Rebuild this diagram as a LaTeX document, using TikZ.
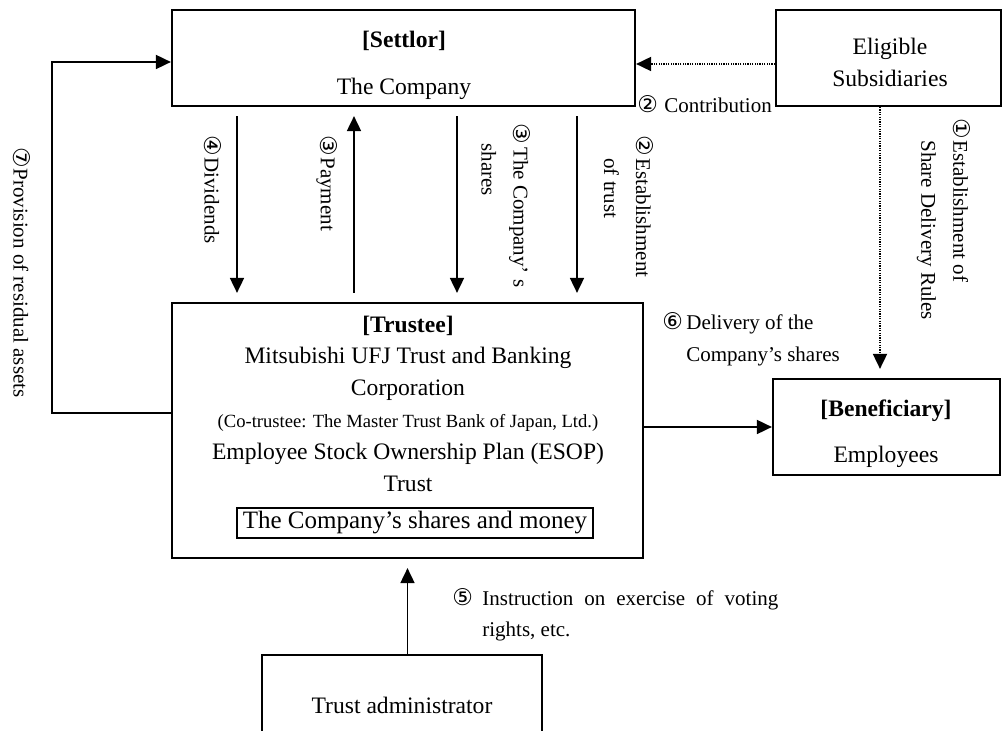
\documentclass[tikz,border=0pt]{standalone}
\usepackage{fontspec}
\setmainfont{Liberation Serif}
\newfontfamily\circfont{DejaVu Sans}
\usetikzlibrary{arrows.meta,positioning}
\newcommand{\cn}[2][11pt]{\makebox[#1][l]{\circfont\fontsize{11.5}{11.5}\selectfont #2}}

\begin{document}
\begin{tikzpicture}
[x=0.5pt,y=-0.5pt,
 box/.style={draw,line width=1.1pt,inner sep=0pt},
 txt/.style={inner sep=0pt,anchor=base,font=\fontsize{11.8}{14}\selectfont},
 hd/.style={txt,font=\fontsize{11.8}{14}\selectfont\bfseries},
 arr/.style={line width=0.9pt,-{Triangle[length=7.5pt,width=7pt]}},
 gap/.style={shorten <=4.5pt,shorten >=4.5pt},
 dotarr/.style={arr,dash pattern=on 0.6pt off 0.6pt},
 lbl/.style={inner sep=0pt,align=left,font=\fontsize{10.5}{16}\selectfont},
 vlbl/.style={lbl,rotate=-90,anchor=west}]
\useasboundingbox (0,0) rectangle (1003,731);
\clip (0,0) rectangle (1003,731);
% parties
\node[box,minimum width=231.5pt,minimum height=48pt] (settlor) at (403.5,58) {};
\node[hd] (settlorhd) at (404,48) {[Settlor]};
\node[txt] (settlortx) at (404,95) {The Company};
\node[box,minimum width=112.5pt,minimum height=48pt] (elig) at (888.5,58) {};
\node[txt] (eligtx1) at (890,55) {Eligible};
\node[txt] (eligtx2) at (890,87) {Subsidiaries};
\node[box,minimum width=235.5pt,minimum height=127.5pt] (trustee) at (407.5,430.5) {};
\node[hd] (trusteehd) at (408,333) {[Trustee]};
\node[txt] (trustee1) at (408,364) {Mitsubishi UFJ Trust and Banking};
\node[txt] (trustee2) at (408,396) {Corporation};
\node[txt,font=\fontsize{9.3}{11}\selectfont] (trustee3) at (408,428) {(Co-trustee: The Master Trust Bank of Japan, Ltd.)};
\node[txt] (trustee4) at (408,460) {Employee Stock Ownership Plan (ESOP)};
\node[txt] (trustee5) at (408,492) {Trust};
\node[box,line width=0.9pt,minimum width=178pt,minimum height=15pt,
  font=\fontsize{12.5}{14}\selectfont] (assets) at (415,523) {The Company’s shares and money};
\node[box,minimum width=113.5pt,minimum height=48pt] (benef) at (886.5,427) {};
\node[hd] (benefhd) at (886,417) {[Beneficiary]};
\node[txt] (beneftx) at (886,463) {Employees};
\node[box,minimum width=140pt,minimum height=50pt,
  font=\fontsize{11.8}{14}\selectfont] (admin) at (402,705) {Trust administrator};
% flows
\coordinate (bend1) at (52,413);
\coordinate (bend2) at (52,62);
\draw[arr] (trustee.west |- bend1) -- (bend1) -- (bend2) -- (settlor.west |- bend2);
\draw[dotarr] ([yshift=-3pt]elig.west) -- ([yshift=-3pt]settlor.east);
\foreach \xx in {237,457,577}
  \draw[arr,gap] (\xx,0 |- settlor.south) -- (\xx,0 |- trustee.north);
\draw[arr,gap] (354,0 |- trustee.north) -- (354,0 |- settlor.south);
\draw[dotarr,shorten >=4.5pt] (880,0 |- elig.south) -- (880,0 |- benef.north);
\draw[arr,shorten >=4.5pt] (trustee.south |- admin.north) -- (trustee.south);
\draw[arr] (benef.west -| trustee.east) -- (benef.west);
% labels
\node[vlbl] (lab7) at (22,147) {\cn[10.5pt]{⑦}Provision of residual assets};
\node[vlbl] (lab4) at (213,135) {\cn{④}Dividends};
\node[vlbl] (lab3a) at (327,135) {\cn{③}Payment};
\node[vlbl] (lab3b) at (506,123) {\cn[12pt]{③}The Company’ s\\\hspace{10pt}shares};
\node[vlbl] (lab2b) at (628.5,135) {\cn[11.5pt]{②}Establishment\\\hspace{11.5pt}of trust};
\node[vlbl] (lab1) at (943.5,118) {\cn{①}Establishment of\\\hspace{11pt}Share Delivery Rules};
\node[lbl,anchor=base west] (lab2a) at (637,113) {\cn[13.5pt]{②}Contribution};
\node[lbl,anchor=west] (lab6) at (662,339.5) {\cn[12pt]{⑥}Delivery of the\\\hspace{12pt}Company’s shares};
\node[lbl,anchor=west,font=\fontsize{10.5}{15.5}\selectfont] (lab5) at (452,615)
  {\cn[15pt]{⑤}\makebox[148pt][s]{Instruction on exercise of voting}\\\hspace{15pt}rights, etc.};
\end{tikzpicture}
\end{document}
